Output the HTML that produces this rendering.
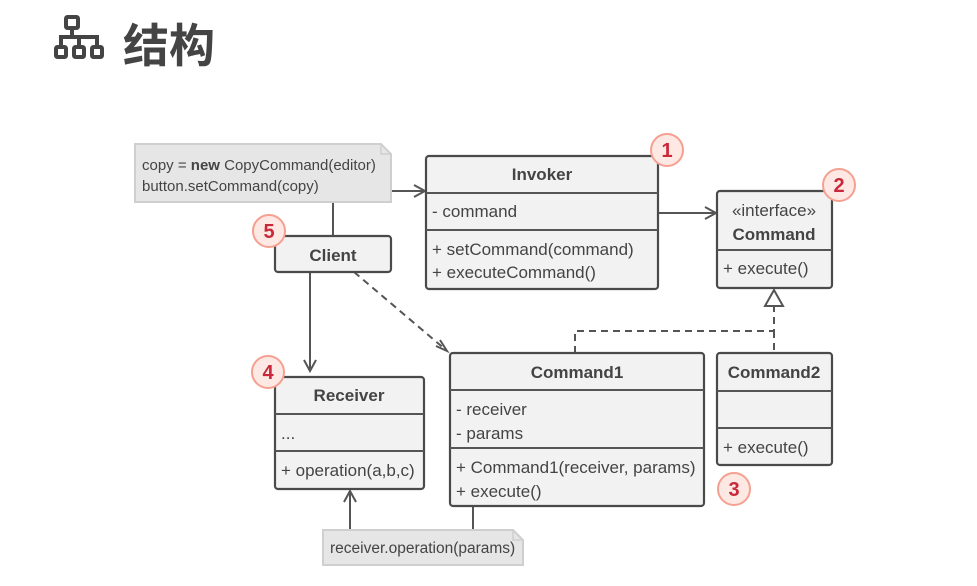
<!DOCTYPE html>
<html><head><meta charset="utf-8"><style>
body{margin:0;background:#fff;}
svg{display:block;}
text{font-family:"Liberation Sans","Noto Sans CJK SC",sans-serif;fill:#444;font-size:17px;}
.b{font-weight:bold;}
.box{fill:#f2f2f2;stroke:#4a4a4a;stroke-width:2.2;}
.ln{stroke:#555;stroke-width:2;fill:none;}
.dl{stroke:#555;stroke-width:2;fill:none;stroke-dasharray:7,5;}
.note{fill:#e6e6e6;stroke:#cfcfcf;stroke-width:2;}
.bc{fill:#fde8e3;stroke:#f5a090;stroke-width:2;}
.bt{fill:#c8283a;font-weight:bold;font-size:20px;}
</style></head><body>
<svg width="977" height="586" viewBox="0 0 977 586" xmlns="http://www.w3.org/2000/svg">
<g fill="none" stroke="#444" stroke-width="4">
<rect x="66" y="17" width="12" height="11" rx="1.5"/>
<rect x="56" y="47" width="10" height="10" rx="1.5"/>
<rect x="74" y="47" width="10" height="10" rx="1.5"/>
<rect x="92" y="47" width="10" height="10" rx="1.5"/>
<path d="M72 28 V37 M61 47 V37 H97 V47 M79 37 V47"/>
</g>
<text x="123" y="62" style="font-size:46px;font-weight:bold;fill:#444;">结构</text>

<path class="ln" d="M391 191 H425 M414 185 L425 191 L414 197"/>
<path class="ln" d="M658 213 H716 M705 207 L716 213 L705 219"/>
<path class="ln" d="M333 202 V236"/>
<path class="ln" d="M310 272 V371 M304 360 L310 371 L316 360"/>
<path class="dl" d="M354 272 L446 350"/>
<path class="ln" d="M436 346 L447 351 L440 340"/>
<path class="dl" d="M575 353 V331 H774 V306"/>
<path class="dl" d="M774 331 V353"/>
<path d="M774 290 L765 306 H783 Z" fill="#fff" stroke="#555" stroke-width="2"/>
<path class="ln" d="M473 507 V530"/>
<path class="ln" d="M350 530 V491 M344 502 L350 491 L356 502"/>

<path class="note" d="M135 144 H381 L391 154 V202 H135 Z"/>
<path d="M381 144 V154 H391" fill="none" stroke="#cfcfcf" stroke-width="1.5"/>
<text x="142" y="170" style="font-size:15px">copy = <tspan class="b">new</tspan> CopyCommand(editor)</text>
<text x="142" y="191" style="font-size:15px">button.setCommand(copy)</text>

<rect class="box" x="426" y="156" width="232" height="133" rx="3"/>
<path class="ln" d="M426 193 H658 M426 230 H658" stroke="#4a4a4a"/>
<text x="542" y="180" text-anchor="middle" class="b">Invoker</text>
<text x="432" y="217">- command</text>
<text x="432" y="255">+ setCommand(command)</text>
<text x="432" y="278">+ executeCommand()</text>

<rect class="box" x="717" y="191" width="115" height="97" rx="3"/>
<path class="ln" d="M717 250 H832" stroke="#4a4a4a"/>
<text x="774" y="216" text-anchor="middle">«interface»</text>
<text x="774" y="240" text-anchor="middle" class="b">Command</text>
<text x="723" y="274">+ execute()</text>

<rect class="box" x="275" y="236" width="116" height="36" rx="3"/>
<text x="333" y="261" text-anchor="middle" class="b">Client</text>

<rect class="box" x="275" y="377" width="149" height="112" rx="3"/>
<path class="ln" d="M275 414 H424 M275 451 H424" stroke="#4a4a4a"/>
<text x="349" y="401" text-anchor="middle" class="b">Receiver</text>
<text x="281" y="439">...</text>
<text x="281" y="476">+ operation(a,b,c)</text>

<rect class="box" x="450" y="353" width="254" height="153" rx="3"/>
<path class="ln" d="M450 390 H704 M450 448 H704" stroke="#4a4a4a"/>
<text x="577" y="378" text-anchor="middle" class="b">Command1</text>
<text x="456" y="415">- receiver</text>
<text x="456" y="439">- params</text>
<text x="456" y="473">+ Command1(receiver, params)</text>
<text x="456" y="497">+ execute()</text>

<rect class="box" x="717" y="353" width="115" height="112" rx="3"/>
<path class="ln" d="M717 391 H832 M717 428 H832" stroke="#4a4a4a"/>
<text x="774" y="378" text-anchor="middle" class="b">Command2</text>
<text x="723" y="453">+ execute()</text>

<path class="note" d="M323 530 H513 L523 540 V565 H323 Z"/>
<path d="M513 530 V540 H523" fill="none" stroke="#cfcfcf" stroke-width="1.5"/>
<text x="330" y="553" style="font-size:15.5px">receiver.operation(params)</text>

<circle class="bc" cx="667" cy="150" r="16"/><text class="bt" x="667" y="157" text-anchor="middle">1</text>
<circle class="bc" cx="839" cy="185" r="16"/><text class="bt" x="839" y="192" text-anchor="middle">2</text>
<circle class="bc" cx="734" cy="489" r="16"/><text class="bt" x="734" y="496" text-anchor="middle">3</text>
<circle class="bc" cx="268" cy="372" r="16"/><text class="bt" x="268" y="379" text-anchor="middle">4</text>
<circle class="bc" cx="269" cy="231" r="16"/><text class="bt" x="269" y="238" text-anchor="middle">5</text>
</svg>
</body></html>
